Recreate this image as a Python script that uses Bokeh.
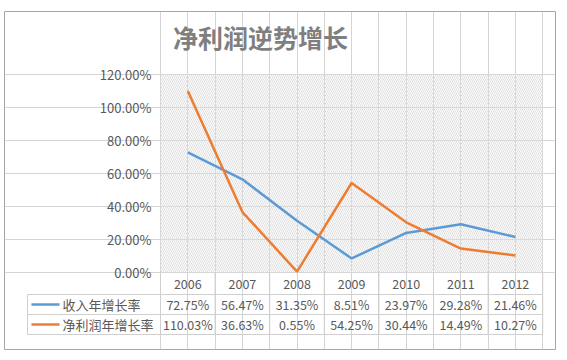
from bokeh.plotting import figure
from bokeh.models import Range1d, FixedTicker, Label
from bokeh.core.properties import value
from bokeh.embed import file_html
from bokeh.resources import INLINE

years = ["2006", "2007", "2008", "2009", "2010", "2011", "2012"]
revenue_growth = [72.75, 56.47, 31.35, 8.51, 23.97, 29.28, 21.46]
profit_growth = [110.03, 36.63, 0.55, 54.25, 30.44, 14.49, 10.27]
series_names = ["收入年增长率", "净利润年增长率"]
y_ticks = [0, 20, 40, 60, 80, 100, 120]
y_tick_labels = ["%.2f%%" % t for t in y_ticks]
title_text = "净利润逆势增长"

BLUE = "#5b9bd5"
ORANGE = "#ed7d31"
GRID = "#d4d4d4"
TXT = "#595959"
FONT = "Noto Sans CJK SC"

idx = list(range(len(years)))
n = len(years)

p = figure(width=556, height=350, output_backend="svg", toolbar_location=None,
           x_range=Range1d(-3.357, 6.734), y_range=Range1d(-46.67, 158.18),
           min_border_left=4, min_border_right=1, min_border_top=11, min_border_bottom=1)
p.xaxis.visible = False
p.yaxis.visible = False
p.outline_line_color = "#a6a6a6"
p.outline_line_width = 1
p.background_fill_color = "white"
p.border_fill_color = "white"

# hatched plot area (no fill, so the grid shows through)
p.quad(left=[-0.5], right=[n - 0.5], bottom=[0], top=[120], fill_color=None,
       line_color=None, hatch_pattern="left_diagonal_line", hatch_color="#dedede",
       hatch_scale=4, hatch_weight=1)

# grids
p.ygrid.ticker = FixedTicker(ticks=y_ticks)
p.ygrid.bounds = (-0.5, n - 0.5)
p.ygrid.grid_line_color = GRID
p.xgrid.ticker = FixedTicker(ticks=[i * 0.5 - 0.5 for i in range(2 * n + 1)])
p.xgrid.bounds = (0, 120)
p.xgrid.grid_line_color = GRID

# y tick labels
p.text(x=[-0.665] * len(y_ticks), y=y_ticks, text=y_tick_labels, text_align="right",
       text_baseline="middle", text_font=value(FONT), text_font_size="13px", text_color=TXT)

# lines
p.line(idx, revenue_growth, line_color=BLUE, line_width=2.5)
p.line(idx, profit_growth, line_color=ORANGE, line_width=2.5)

# data table
row_lines = [-13.33, -25.45, -37.58]
leg_left = -2.936
tbl_line = "#cfcfcf"
bx = [i - 0.5 for i in range(n + 1)]
p.segment(x0=bx, y0=[0] * len(bx), x1=bx, y1=[row_lines[-1]] * len(bx), line_color=tbl_line, line_width=1)
p.segment(x0=[leg_left], y0=[row_lines[0]], x1=[leg_left], y1=[row_lines[-1]], line_color=tbl_line, line_width=1)
p.segment(x0=[leg_left] * 3, y0=row_lines, x1=[n - 0.5] * 3, y1=row_lines, line_color=tbl_line, line_width=1)

hdr_y, r1_y, r2_y = -6.67, -19.4, -31.5
p.text(x=idx, y=[hdr_y] * n, text=years, text_align="center", text_baseline="middle",
       text_font=value(FONT), text_font_size="12.5px", text_color=TXT)
p.text(x=idx, y=[r1_y] * n, text=["%.2f%%" % v for v in revenue_growth], text_align="center",
       text_baseline="middle", text_font=value(FONT), text_font_size="12.5px", text_color=TXT)
p.text(x=idx, y=[r2_y] * n, text=["%.2f%%" % v for v in profit_growth], text_align="center",
       text_baseline="middle", text_font=value(FONT), text_font_size="12.5px", text_color=TXT)

# legend keys
p.segment(x0=[-2.863, -2.863], y0=[r1_y, r2_y], x1=[-2.35, -2.35], y1=[r1_y, r2_y],
          line_color=[BLUE, ORANGE], line_width=2.5)
p.text(x=[-2.294, -2.294], y=[r1_y, r2_y], text=series_names, text_align="left",
       text_baseline="middle", text_font=value(FONT), text_font_size="13px", text_color=TXT)

# title
p.add_layout(Label(x=256, y=313, x_units="screen", y_units="screen", text=title_text,
                   text_align="center", text_baseline="middle", text_font=FONT,
                   text_font_size="25px", text_font_style="bold", text_color="#7f7f7f"))

open("out.html", "w").write(file_html(p, INLINE))
